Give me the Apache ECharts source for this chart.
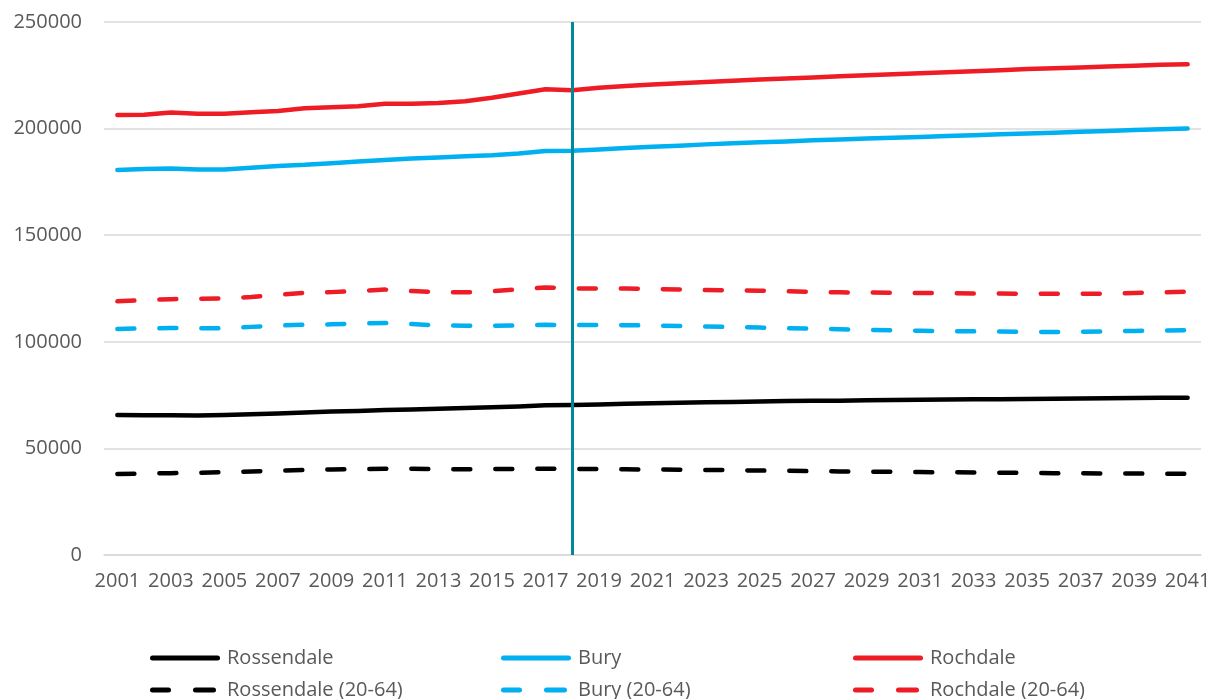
<!DOCTYPE html>
<html>
<head>
<meta charset="utf-8">
<script src="https://cdn.jsdelivr.net/npm/echarts@6/dist/echarts.min.js"></script>
<style>html,body{margin:0;padding:0;background:#fff}#c{width:1217px;height:699px}</style>
</head>
<body>
<div id="c"></div>
<script>
const years = [];
for (let y = 2001; y <= 2041; y++) years.push(String(y));

const rossendale = [65700,65600,65600,65400,65700,66000,66400,66800,67300,67600,68000,68300,68600,69000,69300,69700,70200,70300,70600,70900,71200,71400,71600,71800,72000,72200,72300,72400,72600,72700,72800,72900,73000,73100,73200,73300,73400,73500,73600,73700,73800];
const bury = [180600,181000,181300,180800,180800,181600,182500,183000,183800,184600,185300,186000,186400,187000,187500,188300,189500,189600,190200,190900,191500,192000,192600,193100,193600,194000,194500,194900,195300,195700,196100,196500,196900,197300,197700,198100,198500,198900,199300,199700,200000];
const rochdale = [206400,206500,207500,207000,207000,207700,208300,209500,210000,210500,211700,211700,212000,212800,214500,216500,218500,218000,219200,220000,220700,221300,221900,222400,223000,223500,224000,224500,225000,225500,226000,226400,226900,227400,227900,228300,228700,229100,229500,229900,230200];
const rossendale2064 = [38000,38200,38400,38600,38800,39200,39600,39900,40100,40300,40500,40400,40300,40200,40300,40400,40500,40400,40300,40200,40100,40000,39900,39800,39600,39500,39300,39200,39100,39000,38900,38800,38700,38600,38500,38400,38300,38200,38200,38100,38100];
const bury2064 = [106000,106300,106500,106400,106300,107000,107600,108000,108200,108600,108800,108300,107700,107500,107500,107700,108000,107800,107900,107800,107600,107400,107200,106900,106700,106400,106200,105900,105600,105400,105200,105000,104900,104800,104700,104600,104700,104900,105100,105300,105500];
const rochdale2064 = [119000,119500,120000,120200,120300,121000,122000,123000,123300,123800,124500,123800,123300,123200,123700,124600,125500,125000,125000,125000,124800,124500,124300,124100,124000,123700,123400,123200,123100,123000,122900,122800,122700,122600,122500,122500,122500,122600,122900,123200,123500];
const markerYear = '2018';

const FONT = 'Open Sans';
const TXT = '#595959';
const BLACK = '#000000', BLUE = '#00B0F0', RED = '#EE1C25';
const DASH = [17, 25];

function mk(name, data, color, dashed) {
  return {
    name, type: 'line', data, symbol: 'none', smooth: false,
    lineStyle: { color, width: 4.5, type: dashed ? DASH : 'solid', cap: 'round', join: 'round' },
    itemStyle: { color },
    emphasis: { disabled: true },
    z: 2
  };
}

const series = [
  mk('Rossendale', rossendale, BLACK, false),
  mk('Bury', bury, BLUE, false),
  mk('Rochdale', rochdale, RED, false),
  mk('Rossendale (20-64)', rossendale2064, BLACK, true),
  mk('Bury (20-64)', bury2064, BLUE, true),
  mk('Rochdale (20-64)', rochdale2064, RED, true)
];
series[0].markLine = {
  silent: true, symbol: ['none', 'none'], label: { show: false },
  lineStyle: { color: '#00899A', width: 3, type: 'solid' },
  data: [{ xAxis: markerYear }], z: 10
};

const SOLID_ICON = 'path://M2.5,0 H67.5 A2.5,2.5 0 0 1 67.5,5 H2.5 A2.5,2.5 0 0 1 2.5,0 Z';
const DASH_ICON = 'path://M2.5,0 H18.5 A2.5,2.5 0 0 1 18.5,5 H2.5 A2.5,2.5 0 0 1 2.5,0 Z M45.5,0 H63.5 A2.5,2.5 0 0 1 63.5,5 H45.5 A2.5,2.5 0 0 1 45.5,0 Z';

const legendPos = [
  ['Rossendale', 150, 648, false], ['Bury', 501, 648, false], ['Rochdale', 853, 648, false],
  ['Rossendale (20-64)', 150, 680, true], ['Bury (20-64)', 501, 680, true], ['Rochdale (20-64)', 853, 680, true]
];
const legends = legendPos.map(([n, l, t, d]) => ({
  data: [{ name: n, icon: d ? DASH_ICON : SOLID_ICON }], left: l, top: t, padding: 0,
  itemWidth: d ? 66 : 70, itemHeight: 5, itemGap: 0,
  textStyle: { fontFamily: FONT, fontSize: 20, color: TXT, padding: [0, 0, 0, d ? 6 : 2] },
  selectedMode: false
}));

const chart = echarts.init(document.getElementById('c'), null, { renderer: 'canvas' });
chart.setOption({
  animation: false,
  backgroundColor: '#ffffff',
  grid: { left: 104, right: 16, top: 22, bottom: 144, containLabel: false },
  legend: legends,
  xAxis: {
    type: 'category', data: years, boundaryGap: true,
    axisLine: { show: true, lineStyle: { color: '#d9d9d9', width: 1.5 } },
    axisTick: { show: false },
    axisLabel: { interval: 1, fontFamily: FONT, fontSize: 20, color: TXT, margin: 16 }
  },
  yAxis: {
    type: 'value', min: 0, max: 250000, interval: 50000,
    axisLine: { show: false }, axisTick: { show: false },
    splitLine: { lineStyle: { color: '#d9d9d9', width: 1.5 } },
    axisLabel: { fontFamily: FONT, fontSize: 20, color: TXT, margin: 22, formatter: v => String(v) }
  },
  series
});
</script>
</body>
</html>
